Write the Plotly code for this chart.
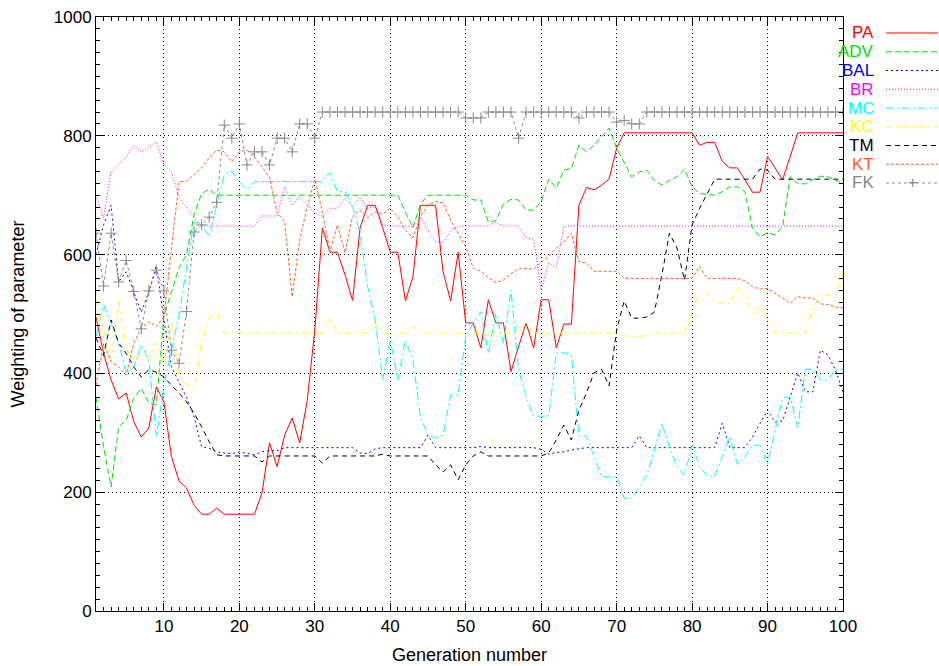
import plotly.graph_objects as go

gen = list(range(1, 101))

PA = [495,434,389,357,367,319,293,308,377,352,260,219,207,178,163,163,173,163,163,163,
      163,163,199,283,243,296,325,283,355,473,645,604,604,566,523,645,683,683,645,604,
      604,522,562,683,683,683,571,522,604,485,485,443,524,485,485,403,445,485,443,524,
      524,443,483,483,683,713,709,717,727,779,805,805,805,805,805,805,805,805,805,805,
      784,789,789,757,746,746,726,705,705,765,746,726,765,805,805,805,805,805,805,805]
ADV = [360,277,209,310,321,358,375,350,347,498,537,578,600,667,703,710,700,700,700,700,
       700,700,700,700,700,700,700,700,700,700,700,700,700,700,700,700,700,700,700,700,
       700,672,645,685,700,700,700,700,700,700,692,692,655,657,685,693,692,675,675,689,
       727,712,742,745,784,773,784,798,813,779,756,731,739,742,725,717,725,731,744,714,
       703,702,700,706,714,714,706,645,630,637,633,647,731,720,719,726,732,731,726,720]
BAL = [600,650,683,554,571,537,503,537,582,490,411,385,360,327,276,274,268,266,265,268,
       265,263,268,270,270,275,275,275,275,275,275,275,275,275,275,266,265,273,275,275,
       275,275,275,275,296,275,275,275,275,275,275,277,275,275,275,275,275,275,275,272,
       264,267,268,271,273,275,275,275,275,275,275,275,295,275,275,275,275,275,275,275,
       275,275,275,316,275,275,275,293,316,338,318,320,360,401,369,369,439,431,406,369]
BR = [700,662,739,751,764,784,773,781,790,751,739,697,680,662,648,648,648,648,648,648,
      648,648,665,665,665,714,683,697,683,670,664,678,678,695,681,697,678,681,650,648,
      648,648,648,664,640,622,620,640,648,648,648,648,648,655,648,648,648,628,626,540,
      586,577,648,648,648,648,648,648,648,648,648,648,648,648,648,648,648,648,648,648,
      648,648,648,648,648,648,648,648,648,648,648,648,648,648,648,648,648,648,648,648]
MC = [462,515,485,451,400,410,448,423,293,380,440,498,578,655,652,630,683,734,741,722,
      710,723,723,723,723,723,723,723,723,723,723,738,706,706,681,636,546,490,389,456,
      389,456,423,327,296,291,296,364,365,462,485,504,434,501,451,540,406,361,328,328,
      328,434,435,431,295,295,260,226,226,226,190,190,209,229,271,316,275,243,229,279,
      243,227,227,260,293,247,260,279,279,247,302,360,360,308,407,407,389,389,406,407]
KC = [525,470,420,524,440,423,434,423,451,417,485,397,380,377,451,493,504,468,468,468,
      468,468,468,468,468,468,468,468,468,468,468,495,468,468,468,468,468,485,468,468,
      468,468,481,468,468,468,468,468,468,468,468,468,468,468,468,468,468,485,468,468,
      468,468,468,468,468,468,468,468,468,468,463,462,462,465,468,468,468,468,468,505,
      535,535,520,518,518,544,532,501,512,490,468,468,468,468,468,510,532,532,532,571]
TM = [460,430,490,451,434,411,394,406,402,394,380,367,352,333,310,285,263,261,261,261,
      261,261,251,261,261,261,261,261,261,261,249,261,261,261,261,261,261,261,264,261,
      261,261,261,261,261,246,234,246,221,246,261,268,261,261,261,261,261,261,261,261,
      266,288,313,288,338,367,401,407,379,473,522,493,493,495,503,566,636,611,557,650,
      678,703,727,727,727,727,727,727,744,742,727,727,727,727,727,727,727,727,727,727]
KT = [380,450,420,411,397,451,476,487,479,495,610,722,724,734,746,763,776,773,756,773,
      776,765,748,730,671,655,529,625,681,726,672,605,650,603,664,675,662,672,668,678,
      664,641,628,664,683,689,687,658,636,613,577,572,561,553,557,568,576,577,575,587,
      597,611,621,636,588,586,572,572,572,572,560,560,560,560,560,560,560,560,560,560,
      580,560,560,560,560,560,556,546,542,543,535,527,518,529,527,527,517,516,512,510]
FK = [636,547,636,554,590,538,475,539,574,539,439,417,504,638,650,663,688,818,796,820,
      751,773,773,751,796,796,773,820,820,796,840,840,840,840,840,840,840,840,840,840,
      840,840,840,840,840,840,840,840,840,830,830,830,840,840,840,840,796,840,840,840,
      840,840,840,840,830,840,840,840,840,823,826,820,820,840,840,840,840,840,840,840,
      840,840,840,840,840,840,840,840,840,840,840,840,840,840,840,840,840,840,840,840]

names = ["PA", "ADV", "BAL", "BR", "MC", "KC", "TM", "KT", "FK"]
series = [PA, ADV, BAL, BR, MC, KC, TM, KT, FK]
colors = ["#ff0000", "#00e000", "#0000ff", "#ff00ff", "#00ffff", "#ffff00",
          "#000000", "#ff6020", "#888888"]
dashes = ["solid", "6px,3px", "2px,3px", "1px,2px", "8px,3px,2px,3px",
          "6px,4px,2px,4px", "5px,4px", "3px,2px", "3px,3px"]

FONT = "Liberation Sans, Arial, sans-serif"
fig = go.Figure()
for nm, ys, c, d in zip(names, series, colors, dashes):
    if nm == "FK":
        fig.add_trace(go.Scatter(x=gen, y=ys, mode="lines+markers", name=nm,
                                 line=dict(color=c, width=1, dash=d),
                                 marker=dict(symbol="cross-thin", size=8,
                                             line=dict(color=c, width=1))))
    else:
        fig.add_trace(go.Scatter(x=gen, y=ys, mode="lines", name=nm,
                                 line=dict(color=c, width=1, dash=d)))

# manual gnuplot-style legend (text, then sample) to the right of the plot
annotations = []
shapes = []
W = 747.0
H = 594.0
for i, (nm, c, d) in enumerate(zip(names, colors, dashes)):
    py = 33 + i * 18.75
    yp = (611 - py) / H
    annotations.append(dict(xref="paper", yref="paper", x=(876 - 96) / W, y=yp,
                            text=nm, showarrow=False, xanchor="right", yanchor="middle",
                            font=dict(family=FONT, size=17, color=c)))
    shapes.append(dict(type="line", xref="paper", yref="paper",
                       x0=(886 - 96) / W, x1=(938 - 96) / W, y0=yp, y1=yp,
                       line=dict(color=c, width=1, dash=d)))
    if nm == "FK":
        annotations.append(dict(xref="paper", yref="paper", x=(912 - 96) / W, y=yp,
                                text="+", showarrow=False, xanchor="center",
                                yanchor="middle",
                                font=dict(family=FONT, size=16, color=c)))

axis_common = dict(showline=True, linecolor="black", linewidth=1, mirror="allticks",
                   ticks="inside", ticklen=8, tickcolor="black", automargin=False,
                   showgrid=True, gridcolor="black", griddash="1px,3px", gridwidth=1,
                   zeroline=False, tickfont=dict(family=FONT, size=17, color="black"))

fig.update_layout(
    width=939, height=666,
    margin=dict(l=96, r=96, t=17, b=55),
    paper_bgcolor="white", plot_bgcolor="white",
    showlegend=False,
    xaxis=dict(range=[1, 100], dtick=10, tick0=0,
               minor=dict(dtick=1, ticklen=4, ticks="inside", tickcolor="black", showgrid=False),
               title=dict(text="Generation number", font=dict(family=FONT, size=18, color="black"),
                          standoff=12),
               **axis_common),
    yaxis=dict(range=[0, 1000], dtick=200,
               minor=dict(dtick=20, ticklen=4, ticks="inside", tickcolor="black", showgrid=False),
               title=dict(text="Weighting of parameter", font=dict(family=FONT, size=18, color="black"),
                          standoff=24),
               **axis_common),
    annotations=annotations,
    shapes=shapes,
)

fig.write_html("out.html")
